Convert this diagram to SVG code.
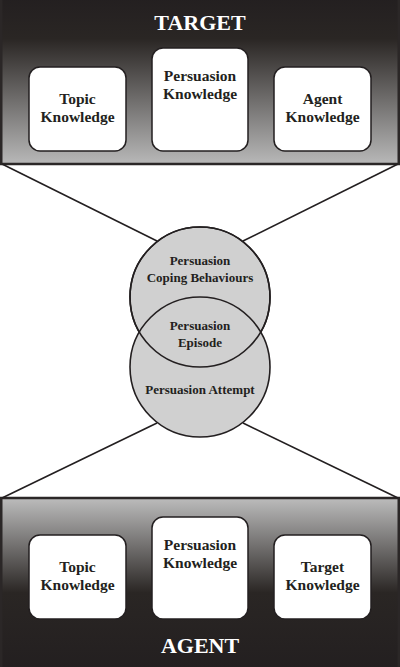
<svg xmlns="http://www.w3.org/2000/svg" width="400" height="667" viewBox="0 0 400 667">
<defs>
<linearGradient id="gTop" x1="0" y1="0" x2="0" y2="1">
<stop offset="0" stop-color="#231f20"/>
<stop offset="0.25" stop-color="#2a2624"/>
<stop offset="1" stop-color="#b8b8b8"/>
</linearGradient>
<linearGradient id="gBot" x1="0" y1="0" x2="0" y2="1">
<stop offset="0" stop-color="#bcbcbc"/>
<stop offset="0.55" stop-color="#2a2624"/>
<stop offset="1" stop-color="#231f20"/>
</linearGradient>
<style>
.panel{stroke:#2b2727;stroke-width:2.5}
.box{fill:#ffffff;stroke:#231f20;stroke-width:1.5}
.circ{fill:#d0d0d0;stroke:#231f20;stroke-width:1.6}
.conn{stroke:#231f20;stroke-width:1.6;fill:none}
text{font-family:"Liberation Serif","Times New Roman",serif;font-weight:bold;fill:#231f20;text-anchor:middle}
.title{font-size:22px;fill:#ffffff}
.bt{font-size:15.5px}
.ct{font-size:13px}
</style>
</defs>
<rect width="400" height="667" fill="#ffffff"/>
<g id="target-panel">
<rect class="panel" x="1.25" y="-3" width="397.5" height="167" fill="url(#gTop)"/>
<text class="title" x="200" y="30">TARGET</text>
</g>
<g id="agent-panel">
<rect class="panel" x="1.25" y="498" width="397.5" height="172" fill="url(#gBot)"/>
<text class="title" x="200" y="653">AGENT</text>
</g>
<g id="connectors">
<line class="conn" x1="2" y1="164" x2="157" y2="241"/>
<line class="conn" x1="398" y1="164" x2="243" y2="241"/>
<line class="conn" x1="2" y1="498" x2="157" y2="423"/>
<line class="conn" x1="398" y1="498" x2="243" y2="423"/>
</g>
<g id="target-topic">
<rect class="box" x="29" y="67" width="97" height="84" rx="11"/>
<text class="bt" x="77.5" y="104">Topic</text>
<text class="bt" x="77.5" y="122">Knowledge</text>
</g>
<g id="target-persuasion">
<rect class="box" x="152" y="48" width="96" height="103" rx="11"/>
<text class="bt" x="200" y="81">Persuasion</text>
<text class="bt" x="200" y="99">Knowledge</text>
</g>
<g id="target-agent">
<rect class="box" x="274" y="67" width="97" height="84" rx="11"/>
<text class="bt" x="322.5" y="104">Agent</text>
<text class="bt" x="322.5" y="122">Knowledge</text>
</g>
<g id="agent-topic">
<rect class="box" x="29" y="535" width="97" height="84" rx="11"/>
<text class="bt" x="77.5" y="572">Topic</text>
<text class="bt" x="77.5" y="590">Knowledge</text>
</g>
<g id="agent-persuasion">
<rect class="box" x="152" y="517" width="96" height="102" rx="11"/>
<text class="bt" x="200" y="550">Persuasion</text>
<text class="bt" x="200" y="568">Knowledge</text>
</g>
<g id="agent-target">
<rect class="box" x="274" y="535" width="97" height="84" rx="11"/>
<text class="bt" x="322.5" y="572">Target</text>
<text class="bt" x="322.5" y="590">Knowledge</text>
</g>
<g id="coping-circle">
<circle class="circ" cx="200" cy="297" r="70"/>
</g>
<g id="attempt-circle">
<circle class="circ" cx="200" cy="367" r="70"/>
<circle cx="200" cy="297" r="70" fill="none" stroke="#231f20" stroke-width="1.6"/>
</g>
<g id="labels">
<text class="ct" x="200" y="265">Persuasion</text>
<text class="ct" x="200" y="282">Coping Behaviours</text>
<text class="ct" x="200" y="330">Persuasion</text>
<text class="ct" x="200" y="347">Episode</text>
<text class="ct" x="200" y="394">Persuasion Attempt</text>
</g>
</svg>
